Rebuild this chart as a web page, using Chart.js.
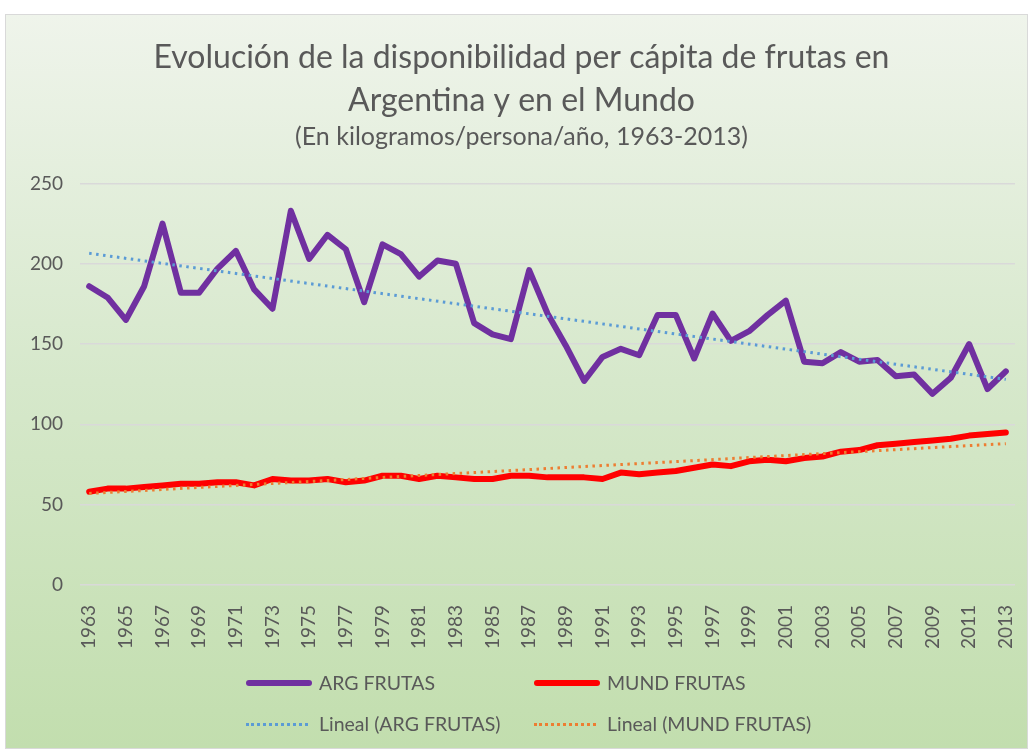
<!DOCTYPE html>
<html>
<head>
<meta charset="utf-8">
<script src="https://cdn.jsdelivr.net/npm/chart.js@4"></script>
<style>
  body { margin: 0; background: #fff; }
  #box {
    position: absolute; left: 5px; top: 14px; width: 1021px; height: 733px;
    border: 1px solid #d9d9d9;
    background: linear-gradient(to bottom, #eff4eb 0%, #d6e8cb 50%, #c2deae 100%);
  }
  #box canvas { position: absolute; left: 0; top: 0; }
  .leg { position: absolute; font-family: Lato, sans-serif; font-size: 19.5px; color: #595959; line-height: 24px; white-space: nowrap; }
  .leg span.mark { position: absolute; left: 0; top: 9px; width: 66px; }
  .leg span.txt { position: absolute; left: 73px; top: 0; }
</style>
</head>
<body>
<div id="box">
  <canvas id="myChart" width="1021" height="733"></canvas>
  <div id="legend"></div>
</div>
<script>
// years 1963-2013
const years = [];
for (let y = 1963; y <= 2013; y++) years.push(String(y));

// kg/persona/año
const argFrutas = [186, 179, 165, 186, 225, 182, 182, 197, 208, 184,
                   172, 233, 203, 218, 209, 176, 212, 206, 192, 202,
                   200, 163, 156, 153, 196, 169, 149, 127, 142, 147,
                   143, 168, 168, 141, 169, 152, 158, 168, 177, 139,
                   138, 145, 139, 140, 130, 131, 119, 129, 150, 122, 133];
const mundFrutas = [58, 60, 60, 61, 62, 63, 63, 64, 64, 62,
                    66, 65, 65, 66, 64, 65, 68, 68, 66, 68,
                    67, 66, 66, 68, 68, 67, 67, 67, 66, 70,
                    69, 70, 71, 73, 75, 74, 77, 78, 77, 79,
                    80, 83, 84, 87, 88, 89, 90, 91, 93, 94, 95];
// trend line ends (Excel "Lineal")
const argTrend = [206.5, 128];
const mundTrend = [57, 88];

const yTicks = [0, 50, 100, 150, 200, 250];

const gray = '#595959';

var config = {
  type: 'line',
  data: {
    labels: years,
    datasets: [
      {
        label: 'ARG FRUTAS',
        data: argFrutas,
        borderColor: '#7030a0',
        borderWidth: 6,
        order: 2
      },
      {
        label: 'MUND FRUTAS',
        data: mundFrutas,
        borderColor: '#ff0000',
        borderWidth: 6,
        order: 2
      },
      {
        label: 'Lineal (ARG FRUTAS)',
        data: [{x: years[0], y: argTrend[0]}, {x: years[years.length - 1], y: argTrend[1]}],
        borderColor: '#5b9bd5',
        borderWidth: 3,
        borderDash: [2.5, 4.5],
        borderCapStyle: 'butt',
        order: 1
      },
      {
        label: 'Lineal (MUND FRUTAS)',
        data: [{x: years[0], y: mundTrend[0]}, {x: years[years.length - 1], y: mundTrend[1]}],
        borderColor: '#ed7d31',
        borderWidth: 3,
        borderDash: [2.5, 4.5],
        borderCapStyle: 'butt',
        order: 1
      }
    ]
  },
  options: {
    responsive: false,
    animation: false,
    elements: {
      point: { radius: 0 },
      line: { tension: 0, borderJoinStyle: 'round', borderCapStyle: 'round' }
    },
    // a bit of left padding nudges the centred title right, like in Excel
    layout: { padding: { top: 21, right: 12, left: 22, bottom: 0 } },
    plugins: {
      legend: { display: false },
      tooltip: { enabled: false },
      title: {
        display: true,
        text: ['Evolución de la disponibilidad per cápita de frutas en', 'Argentina y en el Mundo'],
        color: gray,
        font: { family: 'Lato', size: 32, weight: 'normal', lineHeight: 1.35 },
        padding: { top: 0, bottom: 0 }
      },
      subtitle: {
        display: true,
        text: '(En kilogramos/persona/año, 1963-2013)',
        color: gray,
        font: { family: 'Lato', size: 25, weight: 'normal', lineHeight: 1.2 },
        padding: { top: 0, bottom: 31 }
      }
    },
    scales: {
      x: {
        offset: true,
        grid: { display: false },
        border: { display: false },
        afterFit: s => { s.height = 163; s.paddingLeft = 0; s.paddingRight = 0; },
        ticks: {
          autoSkip: false,
          minRotation: 90,
          maxRotation: 90,
          padding: 12,
          color: gray,
          font: { family: 'Lato', size: 19 },
          callback: function(val, i) { return i % 2 === 0 ? years[i] : ''; }
        }
      },
      y: {
        min: 0,
        max: 250,
        afterFit: s => { s.width = 52; },
        afterBuildTicks: s => { s.ticks = yTicks.map(v => ({value: v})); },
        border: { display: false },
        grid: { color: '#d9d9d9', lineWidth: 1.5, drawTicks: false },
        ticks: {
          padding: 17,
          color: gray,
          font: { family: 'Lato', size: 19 }
        }
      }
    }
  }
};

var myChart = new Chart(document.getElementById('myChart'), config);

// legend in two rows like the Excel one
const legendPos = [[240, 656], [528, 656], [240, 697], [528, 697]];
const legend = document.getElementById('legend');
myChart.data.datasets.forEach((ds, i) => {
  const item = document.createElement('div');
  item.className = 'leg';
  item.style.left = legendPos[i][0] + 'px';
  item.style.top = legendPos[i][1] + 'px';
  const mark = document.createElement('span');
  mark.className = 'mark';
  if (ds.borderDash) {
    mark.style.borderTop = '3px dotted ' + ds.borderColor;
    mark.style.width = '62px';
    mark.style.top = '11px';
  } else {
    mark.style.height = '6px';
    mark.style.borderRadius = '3px';
    mark.style.background = ds.borderColor;
  }
  const txt = document.createElement('span');
  txt.className = 'txt';
  txt.textContent = ds.label;
  item.appendChild(mark);
  item.appendChild(txt);
  legend.appendChild(item);
});
</script>
</body>
</html>
